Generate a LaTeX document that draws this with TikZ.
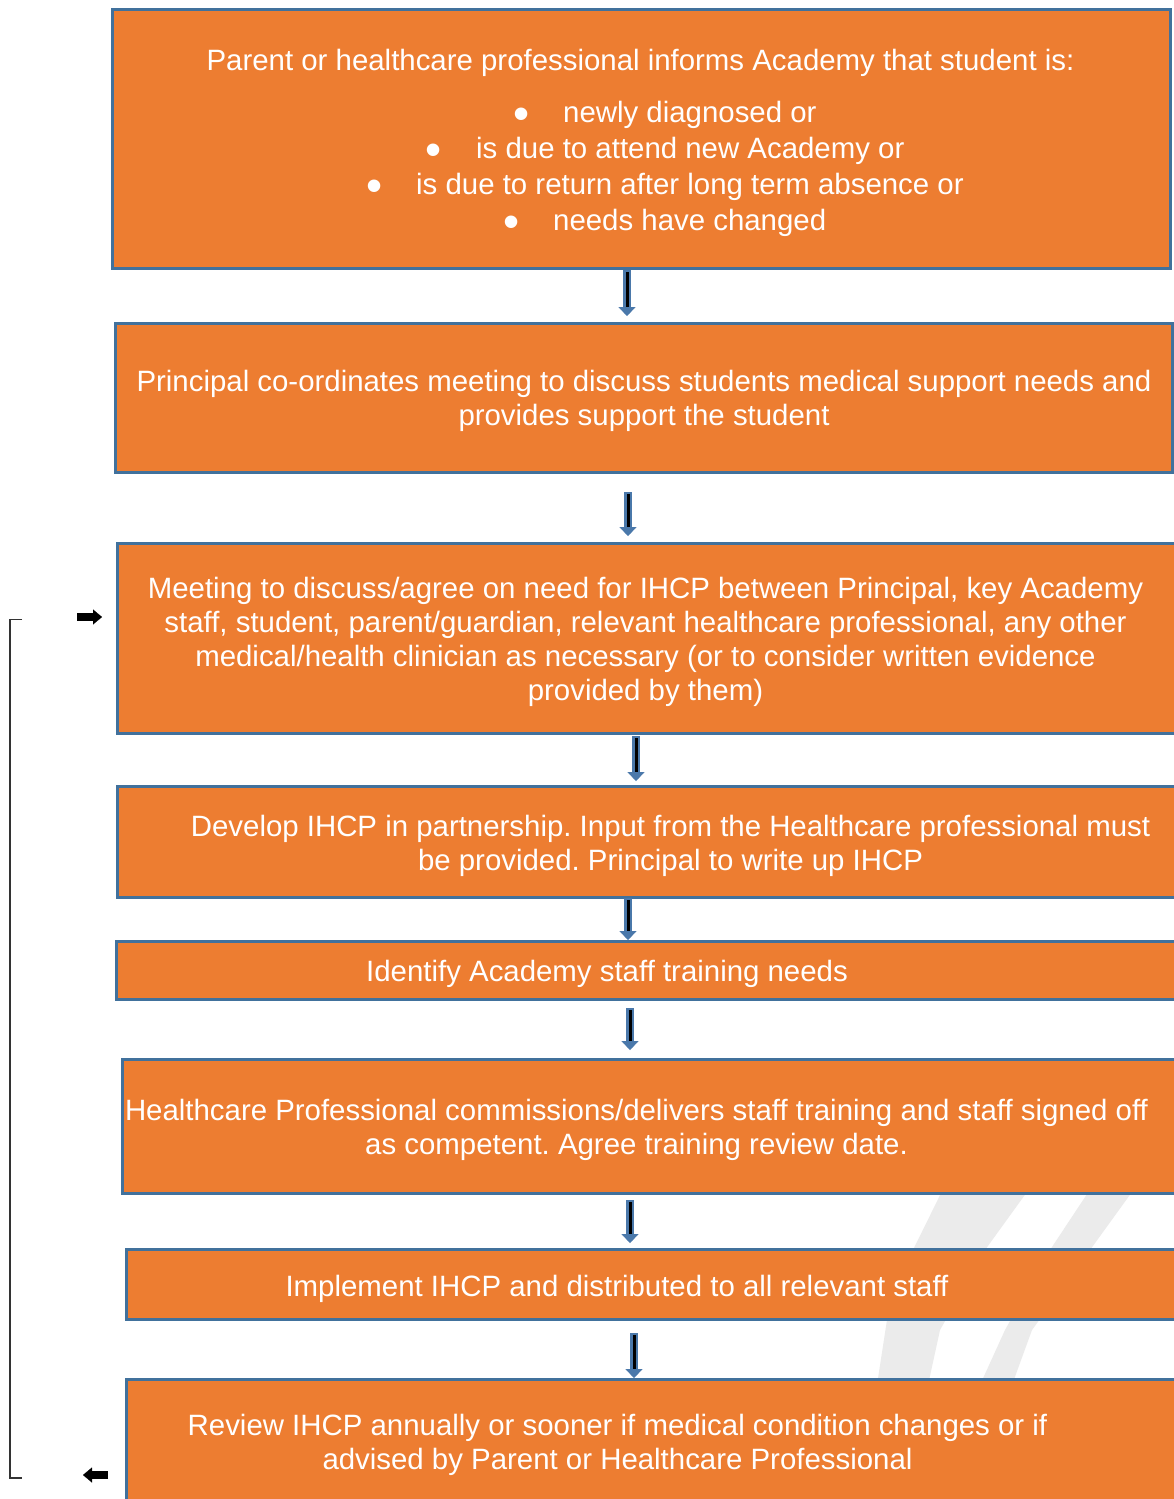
\documentclass[tikz,border=0pt]{standalone}
\usepackage{fontspec}
\setmainfont{Liberation Sans}
\usetikzlibrary{arrows.meta}
\definecolor{boxorange}{HTML}{ED7D31}
\definecolor{boxblue}{HTML}{41719C}
\definecolor{arrblue}{HTML}{4A78AA}
\definecolor{wmgray}{HTML}{EBEBEB}
\frenchspacing
\begin{document}
\begin{tikzpicture}[x=1pt,y=-1pt,
  flowbox/.style={draw=boxblue, line width=3pt, fill=boxorange, inner sep=0pt, outer sep=0pt},
  boxtext/.style={text=white, font=\fontsize{29.4}{34}\selectfont, align=center, inner sep=0pt},
  bullettext/.style={text=white, font=\fontsize{46}{46}\selectfont, inner sep=0pt, anchor=base, text height=20pt, text depth=0pt},
  flowarrow/.style={draw=arrblue, line width=7.5pt, -{Triangle[length=9pt,width=17pt,line width=0.1pt]},
    postaction={draw=black, line width=3pt, -, shorten >=9pt, shorten <=2pt}},
  sidearrow/.style={draw=black, line width=8pt, -{Triangle[length=9pt,width=15pt,line width=0.1pt]}},
  bracketline/.style={draw=black!80, line width=1.4pt}
]
\useasboundingbox (0,0) rectangle (1174,1499);
\clip (0,0) rectangle (1174,1499);
\fill[white] (0,0) rectangle (1174,1499);

% faint watermark
\fill[wmgray] (945,1185) -- (1032,1185) -- (985,1250) -- (940,1330) -- (928,1385) -- (877,1385) -- (887,1320) -- (913,1250) -- cycle;
\fill[wmgray] (1093,1185) -- (1137,1185) -- (1090,1250) -- (1032,1330) -- (1012,1385) -- (980,1385) -- (1005,1330) -- (1050,1250) -- cycle;

% boxes
\node[flowbox, minimum width=1058pt, minimum height=259pt] (b1) at (641,138.5) {};
\node[flowbox, minimum width=1057pt, minimum height=149pt] (b2) at (643.5,397.5) {};
\node[flowbox, minimum width=1068pt, minimum height=190pt] (b3) at (651,638) {};
\node[flowbox, minimum width=1068pt, minimum height=111pt] (b4) at (651,841.5) {};
\node[flowbox, minimum width=1069pt, minimum height=58pt] (b5) at (650.5,970) {};
\node[flowbox, minimum width=1063pt, minimum height=134pt] (b6) at (653.5,1126) {};
\node[flowbox, minimum width=1059pt, minimum height=70pt] (b7) at (655.5,1284) {};
\node[flowbox, minimum width=1059pt, minimum height=131pt] (b8) at (655.5,1444.5) {};

% texts
\node[boxtext, anchor=base] (t1) at (640.5,70) {Parent or healthcare professional informs Academy that student is:};
\node[bullettext] (u1) at (521.7,129) {•};
\node[boxtext, anchor=base west] (l1) at (563,122) {newly diagnosed or};
\node[bullettext] (u2) at (434,165) {•};
\node[boxtext, anchor=base west] (l2) at (476,158) {is due to attend new Academy or};
\node[bullettext] (u3) at (375,201) {•};
\node[boxtext, anchor=base west] (l3) at (416,194) {is due to return after long term absence or};
\node[bullettext] (u4) at (511.7,237) {•};
\node[boxtext, anchor=base west] (l4) at (553,230) {needs have changed};

\node[boxtext] (t2) at (644,401) {Principal co-ordinates meeting to discuss students medical support needs and\\provides support the student};
\node[boxtext] (t3) at (645.5,642) {Meeting to discuss/agree on need for IHCP between Principal, key Academy\\staff, student, parent/guardian, relevant healthcare professional, any other\\medical/health clinician as necessary (or to consider written evidence\\provided by them)};
\node[boxtext] (t4) at (670.5,846) {Develop IHCP in partnership. Input from the Healthcare professional must\\be provided. Principal to write up IHCP};
\node[boxtext] (t5) at (607,974) {Identify Academy staff training needs};
\node[boxtext] (t6) at (636.5,1130) {Healthcare Professional commissions/delivers staff training and staff signed off\\as competent. Agree training review date.};
\node[boxtext] (t7) at (617,1289) {Implement IHCP and distributed to all relevant staff};
\node[boxtext] (t8) at (617.5,1445) {Review IHCP annually or sooner if medical condition changes or if\\advised by Parent or Healthcare Professional};

% arrow end points
\coordinate (a1s) at (627,270);  \coordinate (a1e) at (627,316);
\coordinate (a2s) at (628,492);  \coordinate (a2e) at (628,536);
\coordinate (a3s) at (636,736);  \coordinate (a3e) at (636,781);
\coordinate (a4s) at (628,898);  \coordinate (a4e) at (628,940);
\coordinate (a5s) at (630,1008); \coordinate (a5e) at (630,1050);
\coordinate (a6s) at (630,1200); \coordinate (a6e) at (630,1243);
\coordinate (a7s) at (634,1333); \coordinate (a7e) at (634,1378);
\foreach \i in {1,...,7} { \draw[flowarrow] (a\i s) -- (a\i e); }

% loop-back bracket and side arrows
\coordinate (brt) at (22,619.5);
\coordinate (brb) at (22,1478);
\draw[bracketline] (brt) -- (10,619.5) -- (10,1478) -- (brb);
\coordinate (sr1) at (77,617);  \coordinate (sr2) at (102,617);
\coordinate (sl1) at (108,1475); \coordinate (sl2) at (83,1475);
\draw[sidearrow] (sr1) -- (sr2);
\draw[sidearrow] (sl1) -- (sl2);
\end{tikzpicture}
\end{document}
